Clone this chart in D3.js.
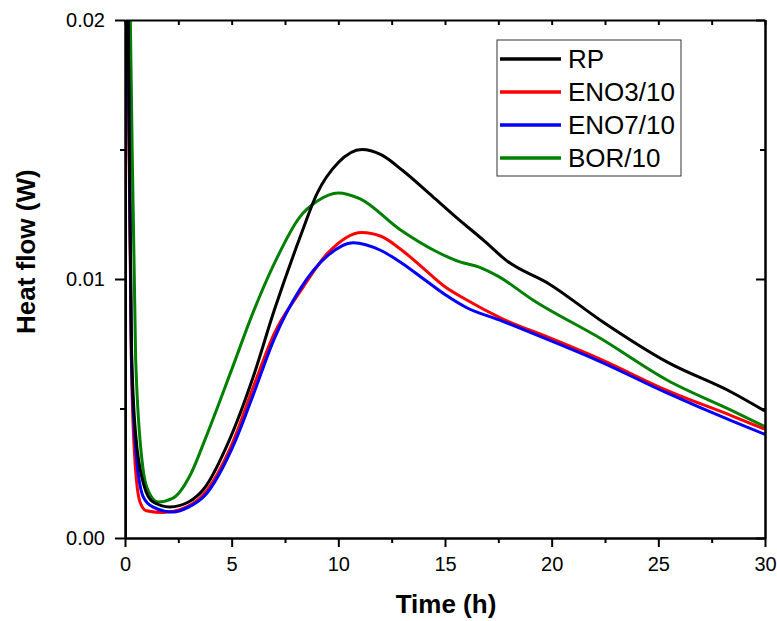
<!DOCTYPE html>
<html>
<head>
<meta charset="utf-8">
<script src="https://cdn.jsdelivr.net/npm/d3@7"></script>
<style>
  body { margin: 0; background: #fff; }
  text { font-family: "Liberation Sans", Arial, sans-serif; }
</style>
</head>
<body>
<svg id="chart"></svg>
<script>
// data: time (h) and heat flow (W)
var seriesNames = ["RP", "ENO3/10", "ENO7/10", "BOR/10"];
var seriesColors = ["#000000", "#ff0000", "#0000ff", "#008000"];

var rpTime = [0, 0.05, 0.15, 0.3, 0.5, 0.9, 1.3, 2.1, 3.0, 3.7, 4.9, 6, 7, 8.2, 9, 10, 11.1, 12, 13, 14.4, 15.5, 16.8, 17.9, 19.9, 22.3, 25.4, 28.5, 30];
var rpFlow = [0, 0.03, 0.02, 0.0075, 0.004, 0.002, 0.0014, 0.0012, 0.0014, 0.0019, 0.0038, 0.0062, 0.0088, 0.0116, 0.0133, 0.0145, 0.0150, 0.0148, 0.0142, 0.0132, 0.0124, 0.0115, 0.0107, 0.0098, 0.0084, 0.0068, 0.0056, 0.0049];

var eno3Time = [0, 0.03, 0.12, 0.3, 0.45, 0.7, 1.0, 1.8, 2.6, 3.7, 5, 6, 7, 8.2, 9.5, 11.1, 12, 13, 14, 15, 16, 17.6, 20, 22.3, 25.4, 28.5, 30];
var eno3Flow = [0, 0.03, 0.02, 0.0068, 0.0032, 0.0014, 0.00105, 0.00098, 0.0011, 0.0017, 0.0036, 0.0058, 0.0079, 0.0095, 0.0110, 0.0118, 0.01165, 0.0111, 0.0104, 0.0097, 0.0092, 0.0085, 0.0077, 0.0069, 0.0057, 0.0047, 0.0042];

var eno7Time = [0, 0.04, 0.15, 0.3, 0.5, 0.85, 1.3, 2.25, 3.0, 3.7, 5.2, 6, 7, 8.2, 9.5, 10.7, 12, 13, 14, 15, 16, 17.6, 20, 22.3, 25.4, 28.5, 30];
var eno7Flow = [0, 0.03, 0.02, 0.007, 0.0035, 0.0016, 0.0012, 0.001, 0.0012, 0.0016, 0.0038, 0.0055, 0.0077, 0.0096, 0.0109, 0.0114, 0.0111, 0.0106, 0.0100, 0.0094, 0.0089, 0.0084, 0.0076, 0.0068, 0.0056, 0.0045, 0.0040];

var borTime = [0, 0.05, 0.25, 0.5, 0.84, 1.1, 1.55, 2.25, 3.1, 3.75, 5, 6, 7, 8.2, 9, 10, 11, 12.9, 14.5, 15.7, 16.6, 17.5, 19.1, 22.3, 25.4, 28.5, 30];
var borFlow = [0, 0.03, 0.02, 0.0069, 0.0027, 0.0018, 0.00139, 0.00154, 0.0025, 0.0038, 0.0065, 0.0087, 0.0106, 0.0124, 0.0130, 0.01332, 0.0131, 0.0119, 0.0111, 0.01066, 0.01046, 0.0101, 0.0092, 0.0077, 0.0061, 0.0049, 0.0043];

var xTicks = [0, 5, 10, 15, 20, 25, 30];
var xMinorTicks = [2.5, 7.5, 12.5, 17.5, 22.5, 27.5];
var yTicks = [0, 0.01, 0.02];
var yMinorTicks = [0.005, 0.015];

var allTimes = [rpTime, eno3Time, eno7Time, borTime];
var allFlows = [rpFlow, eno3Flow, eno7Flow, borFlow];

// set the dimensions and margins of the graph
var margin = {top: 20, right: 12, bottom: 83, left: 125},
width = 640,
height = 518;

var svg = d3.select("#chart")
.attr("width", 777)
.attr("height", 621)
.append("g")
.attr("transform", "translate(" + margin.left + "," + margin.top + ")");

var x = d3.scaleLinear().domain([0, 30]).range([0, width]);
var y = d3.scaleLinear().domain([0, 0.02]).range([height, 0]);

// clip the curves to the plot box
svg.append("clipPath")
.attr("id", "clip")
.append("rect")
.attr("width", width)
.attr("height", height);

var line = d3.line()
.x(function(d) { return x(d[0]); })
.y(function(d) { return y(d[1]); })
.curve(d3.curveMonotoneX);

var curves = svg.append("g").attr("clip-path", "url(#clip)");
// draw black last so it sits on top
[3, 1, 2, 0].forEach(function(i) {
  var pts = allTimes[i].map(function(t, j) { return [t, allFlows[i][j]]; });
  curves.append("path")
  .datum(pts)
  .attr("fill", "none")
  .attr("stroke", seriesColors[i])
  .attr("stroke-width", 3)
  .attr("stroke-linejoin", "round")
  .attr("d", line);
});

// axes
function styleAxis(g) {
  g.select(".domain").attr("stroke", "#000").attr("stroke-width", 2);
  g.selectAll(".tick line").attr("stroke", "#000").attr("stroke-width", 2);
  g.selectAll("text").style("font-size", "20px").attr("fill", "#000")
  .style("font-family", "Liberation Sans, Arial, sans-serif");
}

// bottom
svg.append("g")
.attr("transform", "translate(0," + height + ")")
.call(d3.axisBottom(x).tickValues(xTicks).tickSize(9).tickPadding(10).tickSizeOuter(0))
.call(styleAxis);
svg.append("g")
.attr("transform", "translate(0," + height + ")")
.call(d3.axisBottom(x).tickValues(xMinorTicks).tickSize(5).tickFormat("").tickSizeOuter(0))
.call(styleAxis);

// left
svg.append("g")
.call(d3.axisLeft(y).tickValues(yTicks).tickSize(10).tickPadding(10).tickFormat(d3.format(".2f")).tickSizeOuter(0))
.call(styleAxis);
svg.append("g")
.call(d3.axisLeft(y).tickValues(yMinorTicks).tickSize(5).tickFormat("").tickSizeOuter(0))
.call(styleAxis);

// top, ticks pointing in
svg.append("g")
.call(d3.axisTop(x).tickValues(xTicks.concat(xMinorTicks)).tickSize(-5).tickFormat("").tickSizeOuter(0))
.call(styleAxis);

// right, ticks pointing in
svg.append("g")
.attr("transform", "translate(" + width + ",0)")
.call(d3.axisRight(y).tickValues(yTicks).tickSize(-9).tickFormat("").tickSizeOuter(0))
.call(styleAxis);
svg.append("g")
.attr("transform", "translate(" + width + ",0)")
.call(d3.axisRight(y).tickValues(yMinorTicks).tickSize(-5).tickFormat("").tickSizeOuter(0))
.call(styleAxis);

// axis titles
svg.append("text")
.attr("text-anchor", "middle")
.attr("x", 321)
.attr("y", 593)
.text("Time (h)")
.style("font-weight", "bold")
.style("font-size", "26px");

svg.append("text")
.attr("text-anchor", "start")
.attr("transform", "translate(-90," + (334 - margin.top) + ")rotate(-90)")
.text("Heat flow (W)")
.style("font-weight", "bold")
.style("font-size", "26px");

// legend
var legend = svg.append("g").attr("transform", "translate(372,20)");
legend.append("rect")
.attr("width", 184)
.attr("height", 136)
.attr("fill", "#fff")
.attr("stroke", "#333")
.attr("stroke-width", 1);

seriesNames.forEach(function(name, i) {
  var ly = 19 + i * 33;
  legend.append("line")
  .attr("x1", 3).attr("x2", 64)
  .attr("y1", ly).attr("y2", ly)
  .attr("stroke", seriesColors[i])
  .attr("stroke-width", 3.5);
  legend.append("text")
  .attr("x", 71)
  .attr("y", ly + 9)
  .text(name)
  .style("font-size", "26px");
});
</script>
</body>
</html>
